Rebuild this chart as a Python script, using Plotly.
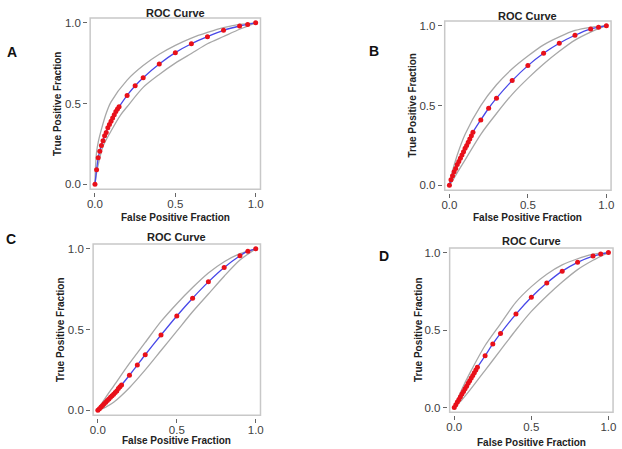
import plotly.graph_objects as go

# ---------------- data ----------------
fpf_dense = [0.0, 0.01, 0.02, 0.03, 0.04, 0.05, 0.06, 0.07, 0.08, 0.09, 0.10, 0.11, 0.12, 0.13, 0.14, 0.15,
             0.20, 0.25, 0.30, 0.40, 0.50, 0.60, 0.70, 0.80, 0.90, 0.95, 1.0]

tpf_A = [0.0, 0.09, 0.164, 0.205, 0.24, 0.27, 0.30, 0.32, 0.35, 0.37, 0.39, 0.41, 0.43, 0.45, 0.466, 0.48,
         0.55, 0.61, 0.66, 0.745, 0.815, 0.87, 0.914, 0.953, 0.98, 0.99, 1.0]
tpf_B = [0.0, 0.035, 0.06, 0.085, 0.105, 0.13, 0.15, 0.17, 0.19, 0.21, 0.233, 0.25, 0.27, 0.29, 0.31, 0.333,
         0.41, 0.483, 0.546, 0.656, 0.75, 0.827, 0.89, 0.94, 0.98, 0.99, 1.0]
tpf_C = [0.0, 0.01, 0.02, 0.03, 0.04, 0.05, 0.06, 0.07, 0.08, 0.09, 0.10, 0.11, 0.12, 0.135, 0.146, 0.157,
         0.217, 0.28, 0.344, 0.466, 0.584, 0.694, 0.795, 0.884, 0.957, 0.985, 1.0]
tpf_D = [0.0, 0.018, 0.035, 0.052, 0.07, 0.087, 0.104, 0.121, 0.138, 0.156, 0.173, 0.19, 0.207, 0.225, 0.242, 0.26,
         0.334, 0.41, 0.478, 0.603, 0.712, 0.803, 0.88, 0.937, 0.977, 0.99, 1.0]

band_x_A_up = [0.0, 0.003, 0.01, 0.02, 0.04, 0.07, 0.10, 0.20, 0.30, 0.40, 0.50, 0.60, 0.70, 0.80, 0.90, 1.0]
band_y_A_up = [0.0, 0.10, 0.20, 0.26, 0.34, 0.44, 0.51, 0.645, 0.735, 0.805, 0.86, 0.905, 0.94, 0.97, 0.99, 1.0]
band_x_A_lo = [0.0, 0.01, 0.02, 0.05, 0.10, 0.16, 0.20, 0.30, 0.40, 0.50, 0.60, 0.70, 0.80, 0.90, 1.0]
band_y_A_lo = [0.0, 0.07, 0.12, 0.235, 0.33, 0.43, 0.48, 0.60, 0.68, 0.75, 0.81, 0.87, 0.915, 0.96, 1.0]

band_x = [0.0, 0.02, 0.05, 0.10, 0.20, 0.30, 0.40, 0.50, 0.60, 0.70, 0.80, 0.90, 1.0]
band_B_up = [0.0, 0.09, 0.19, 0.32, 0.50, 0.63, 0.73, 0.81, 0.88, 0.93, 0.97, 0.99, 1.0]
band_B_lo = [0.0, 0.03, 0.08, 0.16, 0.32, 0.45, 0.57, 0.67, 0.76, 0.84, 0.91, 0.96, 1.0]
band_C_up = [0.0, 0.035, 0.08, 0.15, 0.29, 0.42, 0.55, 0.66, 0.76, 0.85, 0.92, 0.97, 1.0]
band_C_lo = [0.0, 0.006, 0.02, 0.05, 0.14, 0.25, 0.37, 0.49, 0.61, 0.72, 0.83, 0.93, 1.0]
band_D_up = [0.0, 0.05, 0.12, 0.22, 0.40, 0.54, 0.68, 0.78, 0.86, 0.92, 0.96, 0.99, 1.0]
band_D_lo = [0.0, 0.02, 0.05, 0.11, 0.24, 0.37, 0.50, 0.62, 0.72, 0.81, 0.89, 0.95, 1.0]

tick_vals = [0.0, 0.5, 1.0]
tick_text = ["0.0", "0.5", "1.0"]
panel_labels = ["A", "B", "C", "D"]
title_text = "ROC Curve"
x_title = "False Positive Fraction"
y_title = "True Positive Fraction"

# ---------------- layout geometry (pixels) ----------------
W, H = 622, 449
# (left, right, top, bottom) of each plot box
boxes = [(88, 260, 17, 189), (446, 614, 20, 190), (91, 260, 244, 416), (451, 616, 248, 413)]
letter_pos = [(9, 51), (375, 50), (8, 239), (385, 256)]
title_y = [12, 15, 237, 241]
xtitle_y = [217, 217, 441.5, 443]
ytitle_x = [55, 414, 58, 419]

panels = [
    (tpf_A, band_x_A_up, band_y_A_up, band_x_A_lo, band_y_A_lo),
    (tpf_B, band_x, band_B_up, band_x, band_B_lo),
    (tpf_C, band_x, band_C_up, band_x, band_C_lo),
    (tpf_D, band_x, band_D_up, band_x, band_D_lo),
]

FONT = "Liberation Sans, Arial, sans-serif"
fig = go.Figure()
annotations = []
shapes = []
layout_axes = {}

for i, (tpf, bxu, byu, bxl, byl) in enumerate(panels):
    n = "" if i == 0 else str(i + 1)
    xa, ya = "x" + n, "y" + n
    for bx, by in ((bxu, byu), (bxl, byl)):
        fig.add_trace(go.Scatter(x=bx, y=by, xaxis=xa, yaxis=ya, mode="lines",
                                 line=dict(color="#a8a8a8", width=1.3, shape="spline", smoothing=0.8),
                                 showlegend=False, hoverinfo="skip"))
    fig.add_trace(go.Scatter(x=fpf_dense, y=tpf, xaxis=xa, yaxis=ya, mode="lines+markers",
                             line=dict(color="#4848e8", width=1.3, shape="spline", smoothing=0.6),
                             marker=dict(color="#e8101a", size=5),
                             showlegend=False))
    l, r, t, b = boxes[i]
    common = dict(range=[-0.03, 1.03], tickvals=tick_vals, ticktext=tick_text, ticks="outside",
                  ticklen=4, tickcolor="#666666", tickwidth=1, showline=False, showgrid=False,
                  zeroline=False, anchor="free",
                  tickfont=dict(family=FONT, size=11.5, color="#404040"))
    layout_axes["xaxis" + n] = dict(common, domain=[l / W, r / W], position=1 - (b + 3) / H,
                                    ticklabelstandoff=-3)
    layout_axes["yaxis" + n] = dict(common, domain=[1 - b / H, 1 - t / H], position=(l - 3) / W)
    shapes.append(dict(type="rect", xref=xa + " domain", yref=ya + " domain", x0=0, x1=1, y0=0, y1=1,
                       line=dict(color="#c8c8c8", width=1.5), layer="below"))
    cx = (l + r) / 2
    cy = (t + b) / 2
    annotations.append(dict(text="<b>%s</b>" % title_text, x=cx / W, y=1 - title_y[i] / H, xref="paper",
                            yref="paper", showarrow=False, xanchor="center", yanchor="middle",
                            font=dict(family=FONT, size=11, color="#222222")))
    annotations.append(dict(text="<b>%s</b>" % x_title, x=cx / W, y=1 - xtitle_y[i] / H, xref="paper",
                            yref="paper", showarrow=False, xanchor="center", yanchor="middle",
                            font=dict(family=FONT, size=10, color="#222222")))
    annotations.append(dict(text="<b>%s</b>" % y_title, x=ytitle_x[i] / W, y=1 - cy / H, xref="paper",
                            yref="paper", showarrow=False, xanchor="center", yanchor="middle",
                            textangle=-90, font=dict(family=FONT, size=10, color="#222222")))
    lx, ly = letter_pos[i]
    annotations.append(dict(text="<b>%s</b>" % panel_labels[i], x=lx / W, y=1 - ly / H, xref="paper",
                            yref="paper", showarrow=False, xanchor="center", yanchor="middle",
                            font=dict(family=FONT, size=14, color="#111111")))

fig.update_layout(width=W, height=H, margin=dict(l=0, r=0, t=0, b=0),
                  paper_bgcolor="white", plot_bgcolor="white",
                  annotations=annotations, shapes=shapes, **layout_axes)

fig.write_html("out.html", config={"displayModeBar": False},
               post_script="document.body.style.margin='0px';")
